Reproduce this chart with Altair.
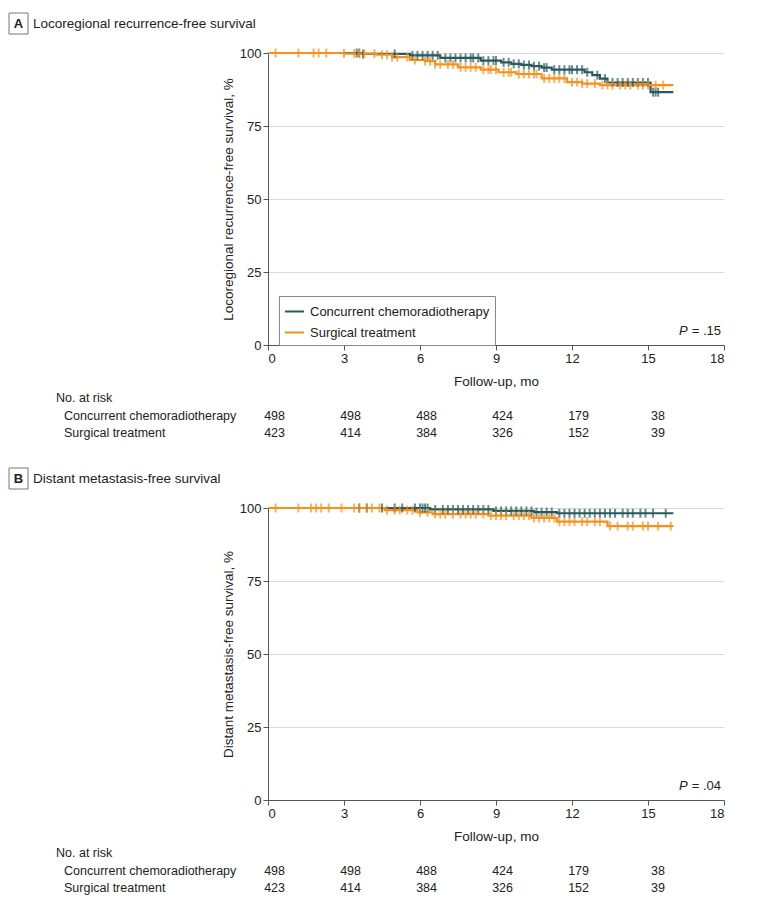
import altair as alt
import pandas as pd
import numpy as np

GROUPS = ["Concurrent chemoradiotherapy", "Surgical treatment"]
COLORS = ["#285a5d", "#f8901c"]
X_TICKS = [0, 3, 6, 9, 12, 15, 18]
Y_TICKS = [0, 25, 50, 75, 100]
RISK_MONTHS = [0, 3, 6, 9, 12, 15]
END_T = 16.0

# ---------------- Panel A ----------------
A_LETTER = "A"
A_TITLE = "Locoregional recurrence-free survival"
A_YTITLE = "Locoregional recurrence-free survival, %"
A_PVAL = "= .15"
A_CCRT_T = [0, 3.7, 5.6, 6.8, 8.4, 9.2, 9.6, 10.0, 10.4, 10.8, 11.2, 12.5, 12.8, 13.1, 13.4, 15.1]
A_CCRT_S = [100, 99.7, 99.2, 98.3, 97.4, 96.8, 96.3, 95.9, 95.5, 95.0, 94.3, 93.4, 92.4, 91.2, 89.9, 86.6]
A_SURG_T = [0, 3.0, 4.3, 4.9, 5.6, 6.2, 6.6, 7.5, 8.4, 9.1, 9.8, 10.8, 11.8, 12.4, 13.1]
A_SURG_S = [100, 99.8, 99.4, 98.6, 97.6, 97.2, 96.1, 95.1, 94.3, 93.4, 92.8, 91.3, 90.0, 89.5, 89.0]
A_CCRT_CENS = [3.5, 3.6, 3.75, 5.0, 5.7, 5.9, 6.1, 6.3, 6.5, 6.7, 7.0, 7.2, 7.4, 7.6, 7.8,
               8.0, 8.1, 8.3, 8.5, 8.7, 8.9, 9.0, 9.3, 9.5, 9.7, 9.9, 10.1, 10.3, 10.5,
               10.7, 10.9, 11.0, 11.3, 11.5, 11.7, 11.9, 12.0, 12.2, 12.4, 12.6, 13.0,
               13.3, 13.6, 13.8, 14.0, 14.2, 14.4, 14.6, 14.8, 15.0, 15.2, 15.3, 15.4]
A_SURG_CENS = [0.3, 1.2, 1.8, 2.0, 2.3, 3.0, 3.4, 3.6, 3.8, 4.2, 4.5, 4.7, 4.9, 5.1, 5.5,
               5.8, 6.2, 6.4, 6.6, 6.8, 7.1, 7.3, 7.6, 7.8, 8.0, 8.2, 8.5, 8.7, 8.8, 9.0,
               9.3, 9.5, 9.6, 9.9, 10.1, 10.3, 10.5, 10.6, 10.9, 11.1, 11.3, 11.5, 11.7,
               12.0, 12.2, 12.4, 12.6, 12.9, 13.2, 13.4, 13.6, 13.9, 14.1, 14.3, 14.6,
               14.8, 15.0, 15.3, 15.6]
A_RISK_CCRT = [498, 498, 488, 424, 179, 38]
A_RISK_SURG = [423, 414, 384, 326, 152, 39]

# ---------------- Panel B ----------------
B_LETTER = "B"
B_TITLE = "Distant metastasis-free survival"
B_YTITLE = "Distant metastasis-free survival, %"
B_PVAL = "= .04"
B_CCRT_T = [0, 6.4, 8.9, 10.5, 11.4]
B_CCRT_S = [100, 99.5, 99.0, 98.6, 98.2]
B_SURG_T = [0, 4.6, 5.9, 6.5, 8.7, 10.4, 11.4, 13.4]
B_SURG_S = [100, 99.3, 98.5, 97.9, 97.4, 96.6, 95.3, 93.8]
B_CCRT_CENS = [3.6, 3.9, 4.5, 5.0, 5.3, 5.8, 6.0, 6.1, 6.2, 6.3, 6.6, 6.9, 7.1, 7.3, 7.5,
               7.7, 7.9, 8.1, 8.3, 8.5, 8.7, 9.0, 9.2, 9.4, 9.6, 9.8, 10.0, 10.2, 10.4,
               10.6, 10.8, 11.0, 11.2, 11.5, 11.7, 11.9, 12.1, 12.3, 12.5, 12.7, 12.9,
               13.1, 13.3, 13.5, 13.7, 14.0, 14.2, 14.4, 14.7, 14.9, 15.2, 15.7]
B_SURG_CENS = [0.3, 1.2, 1.7, 1.9, 2.1, 2.4, 2.9, 3.4, 3.6, 3.9, 4.1, 4.4, 4.7, 5.0, 5.2,
               5.5, 5.7, 6.0, 6.3, 6.6, 6.8, 7.0, 7.3, 7.6, 7.8, 8.0, 8.2, 8.5, 8.8, 9.0,
               9.2, 9.4, 9.7, 9.9, 10.1, 10.3, 10.5, 10.7, 10.9, 11.1, 11.3, 11.5, 11.7,
               11.9, 12.1, 12.4, 12.6, 12.9, 13.1, 13.5, 13.8, 14.2, 14.4, 14.8, 15.0,
               15.4, 15.9]
B_RISK_CCRT = [498, 498, 488, 424, 179, 38]
B_RISK_SURG = [423, 414, 384, 326, 152, 39]

FONT = "Liberation Sans"
W, H = 456, 292


def step_value(ts, ss, t):
    i = int(np.searchsorted(np.array(ts), t, side="right")) - 1
    return ss[max(i, 0)]


def panel(letter, title, ytitle, pval, curves, censors, risks, show_legend):
    line_rows, cens_rows = [], []
    for g, (ts, ss), cs in zip(GROUPS, curves, censors):
        for t, s in zip(ts, ss):
            line_rows.append({"t": t, "s": s, "group": g})
        line_rows.append({"t": END_T, "s": ss[-1], "group": g})
        for c in cs:
            cens_rows.append({"t": c, "s": step_value(ts, ss, c), "group": g})
    df_line = pd.DataFrame(line_rows)
    df_cens = pd.DataFrame(cens_rows)

    xscale = alt.Scale(domain=[0, 18], nice=False)
    yscale = alt.Scale(domain=[0, 100], nice=False)
    xaxis = alt.Axis(values=X_TICKS, title="Follow-up, mo", grid=False, format="d")
    yaxis = alt.Axis(values=Y_TICKS, title=ytitle, grid=True, format="d")
    X = alt.X("t:Q", scale=xscale, axis=xaxis)
    Y = alt.Y("s:Q", scale=yscale, axis=yaxis)
    if show_legend:
        leg = alt.Legend(orient="none", legendX=11, legendY=243, title=None,
                         symbolType="stroke", symbolStrokeWidth=2, symbolSize=360,
                         labelFontSize=13, labelFont=FONT, labelColor="#222", labelLimit=0,
                         strokeColor="#888", fillColor="white", padding=5,
                         rowPadding=3, labelOffset=5)
    else:
        leg = None
    color = alt.Color("group:N", scale=alt.Scale(domain=GROUPS, range=COLORS), legend=leg)

    line = alt.Chart(df_line).mark_line(interpolate="step-after", strokeWidth=2.2).encode(
        x=X, y=Y, color=color)
    ticks = alt.Chart(df_cens).mark_tick(orient="vertical", size=9, thickness=2).encode(
        x=X, y=Y, color=alt.Color("group:N", scale=alt.Scale(domain=GROUPS, range=COLORS), legend=None))

    layers = [line, ticks]

    # risk table
    for k, (g, rk) in enumerate(zip(GROUPS, risks)):
        df_r = pd.DataFrame({"t": RISK_MONTHS, "n": [str(v) for v in rk]})
        layers.append(alt.Chart(df_r).mark_text(align="right", baseline="middle", dx=17,
                                                fontSize=12.5, font=FONT, color="#222").encode(
            x=X, y=alt.value(H + 71 + 17 * k), text="n:N"))
        layers.append(alt.Chart(pd.DataFrame({"lab": [g]})).mark_text(
            align="left", baseline="middle", fontSize=12.5, font=FONT, color="#222").encode(
            x=alt.value(-204), y=alt.value(H + 71 + 17 * k), text="lab:N"))
    layers.append(alt.Chart(pd.DataFrame({"lab": ["No. at risk"]})).mark_text(
        align="left", baseline="middle", fontSize=12.5, font=FONT, color="#222").encode(
        x=alt.value(-212), y=alt.value(H + 53), text="lab:N"))

    # p value
    layers.append(alt.Chart(pd.DataFrame({"lab": ["P"]})).mark_text(
        align="left", baseline="middle", fontSize=13, font=FONT, fontStyle="italic",
        color="#222").encode(x=alt.value(411), y=alt.value(278), text="lab:N"))
    layers.append(alt.Chart(pd.DataFrame({"lab": [pval]})).mark_text(
        align="right", baseline="middle", fontSize=13, font=FONT, color="#222").encode(
        x=alt.value(453), y=alt.value(278), text="lab:N"))

    # panel title with boxed letter
    layers.append(alt.Chart(pd.DataFrame({"a": [0]})).mark_rect(
        fill="white", stroke="#777", strokeWidth=1).encode(
        x=alt.value(-259), x2=alt.value(-240), y=alt.value(-40), y2=alt.value(-19)))
    layers.append(alt.Chart(pd.DataFrame({"lab": [letter]})).mark_text(
        align="center", baseline="middle", fontSize=13, font=FONT, fontWeight="bold",
        color="#222").encode(x=alt.value(-249.5), y=alt.value(-29.5), text="lab:N"))
    layers.append(alt.Chart(pd.DataFrame({"lab": [title]})).mark_text(
        align="left", baseline="middle", fontSize=13.5, font=FONT, color="#222").encode(
        x=alt.value(-235), y=alt.value(-29.5), text="lab:N"))

    return alt.layer(*layers).properties(width=W, height=H)


pA = panel(A_LETTER, A_TITLE, A_YTITLE, A_PVAL,
           [(A_CCRT_T, A_CCRT_S), (A_SURG_T, A_SURG_S)],
           [A_CCRT_CENS, A_SURG_CENS], [A_RISK_CCRT, A_RISK_SURG], True)
pB = panel(B_LETTER, B_TITLE, B_YTITLE, B_PVAL,
           [(B_CCRT_T, B_CCRT_S), (B_SURG_T, B_SURG_S)],
           [B_CCRT_CENS, B_SURG_CENS], [B_RISK_CCRT, B_RISK_SURG], False)

chart = alt.vconcat(pA, pB, spacing=163, bounds="flush").resolve_legend(
    color="independent").properties(
    padding={"left": 0, "top": 4, "right": 5, "bottom": 5}
).configure_view(stroke=None).configure_axis(
    labelFont=FONT, titleFont=FONT, labelFontSize=13, titleFontSize=13.5,
    labelColor="#222", titleColor="#222", titleFontWeight="normal",
    domainColor="#555", tickColor="#555", tickSize=5, gridColor="#d9d9d9",
    labelPadding=2,
).configure_axisX(titlePadding=9).configure_axisY(titlePadding=4)

chart.save("out.html", embed_options={"renderer": "svg", "actions": False})
